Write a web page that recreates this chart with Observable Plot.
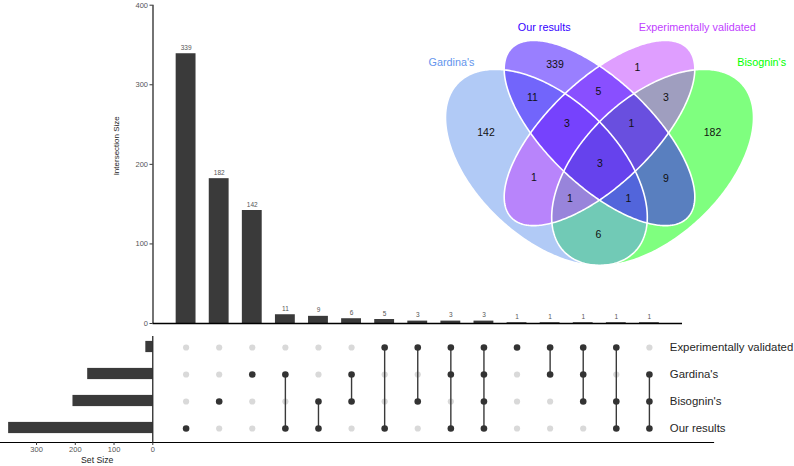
<!DOCTYPE html>
<html><head><meta charset="utf-8">
<script src="https://cdn.jsdelivr.net/npm/d3@7"></script>
<script src="https://cdn.jsdelivr.net/npm/@observablehq/plot@0.6"></script>
<style>
html,body{margin:0;padding:0;background:#fff;}
#chart{position:relative;width:794px;height:466px;overflow:hidden;}
#chart svg{position:absolute;left:0;top:0;}
</style></head><body><div id="chart"></div>
<script>
// ---------------- data ----------------
const setNames = ["Experimentally validated", "Gardina's", "Bisognin's", "Our results"]; // matrix rows, top to bottom
const setSizes = [18, 168, 206, 372];
const intersectionSets = [
  ["Our results"],
  ["Bisognin's"],
  ["Gardina's"],
  ["Gardina's", "Our results"],
  ["Bisognin's", "Our results"],
  ["Gardina's", "Bisognin's"],
  ["Experimentally validated", "Our results"],
  ["Experimentally validated", "Bisognin's"],
  ["Experimentally validated", "Gardina's", "Our results"],
  ["Experimentally validated", "Gardina's", "Bisognin's", "Our results"],
  ["Experimentally validated"],
  ["Experimentally validated", "Gardina's"],
  ["Experimentally validated", "Gardina's", "Bisognin's"],
  ["Experimentally validated", "Bisognin's", "Our results"],
  ["Gardina's", "Bisognin's", "Our results"]
];
const intersectionCounts = [339, 182, 142, 11, 9, 6, 5, 3, 3, 3, 1, 1, 1, 1, 1];
const intersectionTicks = [0, 100, 200, 300, 400];
const setSizeTicks = [0, 100, 200, 300];
const vennSets = ["Gardina's", "Our results", "Experimentally validated", "Bisognin's"];
const vennColors = ["#6495ED", "#3300FF", "#BF3EFF", "#00FF00"];
const vennDrawOrder = ["Bisognin's", "Gardina's", "Experimentally validated", "Our results"];

// ---------------- layout (not data) ----------------
const vennEllipses = [ // normalized venn units, as in a four-set ellipse template
  {cx: 0.35, cy: 0.47, a: 0.35, b: 0.20, rot: 135},
  {cx: 0.50, cy: 0.57, a: 0.35, b: 0.15, rot: 135},
  {cx: 0.50, cy: 0.57, a: 0.35, b: 0.15, rot: 45},
  {cx: 0.65, cy: 0.47, a: 0.35, b: 0.20, rot: 45}
];
const vennSetLabelAnchors = [[0.082, 0.774], [0.344, 0.878], [0.776, 0.878], [0.958, 0.774]];
const vennXRange = [422, 776], vennYRange = [328.6, -15.4];
const FONT = "'Liberation Sans', Arial, Helvetica, sans-serif";
const baseStyle = {background: "transparent", overflow: "visible", fontFamily: FONT};
const dark = "#3a3a3a";

const cols = intersectionCounts.map((c, k) => ({i: k + 1, count: c, members: intersectionSets[k]}));
const chart = document.getElementById("chart");

// ---------------- top: intersection size bars ----------------
const topPlot = Plot.plot({
  width: 794, height: 466,
  marginLeft: 152.5, marginRight: 112, marginTop: 4.7, marginBottom: 143,
  style: baseStyle,
  x: {domain: [0, 16], axis: null},
  y: {domain: [0, 400], axis: null},
  marks: [
    Plot.rectY(cols, {x1: d => d.i - 0.3, x2: d => d.i + 0.3, y1: 0, y2: "count", fill: dark}),
    Plot.text(cols, {x: "i", y: "count", text: d => String(d.count), dy: -6, fontSize: 6.5, fill: "#555"}),
    Plot.axisY({ticks: intersectionTicks, tickSize: 3, tickPadding: 2, fontSize: 7.5, fill: "#555", stroke: "#333", label: null}),
    Plot.ruleX([0], {stroke: "#000", strokeWidth: 1.1}),
    Plot.ruleY([0], {stroke: "#000", strokeWidth: 1.3}),
    Plot.text(["Intersection Size"], {frameAnchor: "left", rotate: -90, dx: -37, dy: 11, fontSize: 8, fill: "#222"})
  ]
});
chart.appendChild(topPlot);

// ---------------- bottom-left: set size bars ----------------
const setData = setNames.map((s, k) => ({set: s, size: setSizes[k]}));
const leftPlot = Plot.plot({
  width: 794, height: 466,
  marginLeft: 0, marginRight: 81, marginTop: 332, marginBottom: 24,
  style: baseStyle,
  x: {domain: [0, 393], range: [152.3, 0], axis: null},
  y: {type: "band", domain: setNames, padding: 0, axis: null},
  marks: [
    Plot.barX(setData, {x: "size", y: "set", fill: dark, insetTop: 7.9, insetBottom: 7.9}),
    Plot.ruleX([0], {stroke: "#000", strokeWidth: 1.1, insetTop: 4}),
    Plot.frame({anchor: "bottom", stroke: "#000", strokeWidth: 1.2}),
    Plot.axisX({ticks: setSizeTicks, anchor: "bottom", tickSize: 3, tickPadding: 1, fontSize: 7.5, fill: "#555", stroke: "#333", label: null}),
    Plot.text(["Set Size"], {frameAnchor: "bottom-left", dx: 80.5, dy: 20, fontSize: 8.7, fill: "#222"})
  ]
});
chart.appendChild(leftPlot);

// ---------------- bottom: matrix ----------------
const dots = [];
cols.forEach(c => setNames.forEach(s => dots.push({i: c.i, set: s, on: c.members.includes(s)})));
const links = cols.filter(c => c.members.length > 1).map(c => {
  const idx = c.members.map(m => setNames.indexOf(m));
  return {i: c.i, y1: setNames[Math.min(...idx)], y2: setNames[Math.max(...idx)]};
});
const matrixPlot = Plot.plot({
  width: 794, height: 466,
  marginLeft: 152.5, marginRight: 112, marginTop: 332, marginBottom: 24,
  style: baseStyle,
  x: {domain: [0, 16], axis: null},
  y: {type: "point", domain: setNames, range: [345.75, 428.25], padding: 0, axis: null},
  marks: [
    Plot.dot(dots.filter(d => !d.on), {x: "i", y: "set", r: 3.1, fill: "#d9d9d9", stroke: "none"}),
    Plot.ruleX(links, {x: "i", y1: "y1", y2: "y2", stroke: dark, strokeWidth: 1.4}),
    Plot.dot(dots.filter(d => d.on), {x: "i", y: "set", r: 3.3, fill: "#333", stroke: "none"}),
    Plot.text(setNames, {y: d => d, frameAnchor: "right", textAnchor: "start", dx: -12.7, fontSize: 11.4, fill: "#262626"})
  ]
});
chart.appendChild(matrixPlot);

// ---------------- venn diagram ----------------
const ellByName = Object.fromEntries(vennSets.map((s, k) => [s, vennEllipses[k]]));
function ellipsePoints(e, n = 360) {
  const t0 = e.rot * Math.PI / 180, pts = [];
  for (let k = 0; k < n; k++) {
    const t = 2 * Math.PI * k / n;
    const u = e.a * Math.cos(t), v = e.b * Math.sin(t);
    pts.push({x: e.cx + u * Math.cos(t0) - v * Math.sin(t0), y: e.cy + u * Math.sin(t0) + v * Math.cos(t0)});
  }
  return pts;
}
function inside(e, x, y) {
  const t0 = e.rot * Math.PI / 180, dx = x - e.cx, dy = y - e.cy;
  const u = dx * Math.cos(t0) + dy * Math.sin(t0), v = -dx * Math.sin(t0) + dy * Math.cos(t0);
  return (u / e.a) ** 2 + (v / e.b) ** 2 <= 1;
}
// place region counts at the most interior point of each region (pixel-space distance transform)
const sx = d3.scaleLinear([0, 1], vennXRange), sy = d3.scaleLinear([0, 1], vennYRange);
const step = 1.5, gx0 = 415, gx1 = 785, gy0 = 15, gy1 = 300;
const W = Math.ceil((gx1 - gx0) / step), H = Math.ceil((gy1 - gy0) / step);
const code = new Int32Array(W * H), dist = new Float64Array(W * H);
for (let r = 0; r < H; r++) for (let c = 0; c < W; c++) {
  const nx = sx.invert(gx0 + c * step), ny = sy.invert(gy0 + r * step);
  let m = 0;
  vennEllipses.forEach((e, k) => { if (inside(e, nx, ny)) m |= (1 << k); });
  code[r * W + c] = m;
}
for (let r = 0; r < H; r++) for (let c = 0; c < W; c++) {
  const k = r * W + c, m = code[k];
  let edge = r === 0 || c === 0 || r === H - 1 || c === W - 1;
  if (!edge) edge = code[k - 1] !== m || code[k + 1] !== m || code[k - W] !== m || code[k + W] !== m;
  dist[k] = edge ? 0 : Infinity;
}
const D1 = step, D2 = step * Math.SQRT2;
for (let r = 1; r < H; r++) for (let c = 1; c < W - 1; c++) {
  const k = r * W + c;
  dist[k] = Math.min(dist[k], dist[k - 1] + D1, dist[k - W] + D1, dist[k - W - 1] + D2, dist[k - W + 1] + D2);
}
for (let r = H - 2; r >= 0; r--) for (let c = W - 2; c >= 1; c--) {
  const k = r * W + c;
  dist[k] = Math.min(dist[k], dist[k + 1] + D1, dist[k + W] + D1, dist[k + W + 1] + D2, dist[k + W - 1] + D2);
}
const best = {};
for (let k = 0; k < W * H; k++) {
  const m = code[k];
  if (!m) continue;
  if (!best[m] || dist[k] > best[m].d) best[m] = {d: dist[k], k};
}
const regionLabels = cols.map(c => {
  const m = c.members.reduce((acc, s) => acc | (1 << vennSets.indexOf(s)), 0);
  const k = best[m].k, r = Math.floor(k / W), cc = k % W;
  return {x: sx.invert(gx0 + cc * step), y: sy.invert(gy0 + r * step), text: String(c.count)};
});
const setLabels = vennSets.map((s, k) => ({x: vennSetLabelAnchors[k][0], y: vennSetLabelAnchors[k][1], text: s, color: vennColors[k]}));

const vennPlot = Plot.plot({
  width: 794, height: 466, margin: 0,
  style: baseStyle,
  x: {domain: [0, 1], range: vennXRange, axis: null},
  y: {domain: [0, 1], range: vennYRange, axis: null},
  marks: [
    ...vennDrawOrder.map(s => Plot.line(ellipsePoints(ellByName[s]), {x: "x", y: "y", curve: "linear-closed", fill: vennColors[vennSets.indexOf(s)], fillOpacity: 0.5, stroke: "none"})),
    ...vennDrawOrder.map(s => Plot.line(ellipsePoints(ellByName[s]), {x: "x", y: "y", curve: "linear-closed", stroke: "#fff", strokeWidth: 1.6})),
    Plot.text(regionLabels, {x: "x", y: "y", text: "text", fontSize: 10.5, fill: "#111"}),
    Plot.text(setLabels, {x: "x", y: "y", text: "text", fill: "color", fontSize: 10.8})
  ]
});
chart.appendChild(vennPlot);
</script>
</body></html>
